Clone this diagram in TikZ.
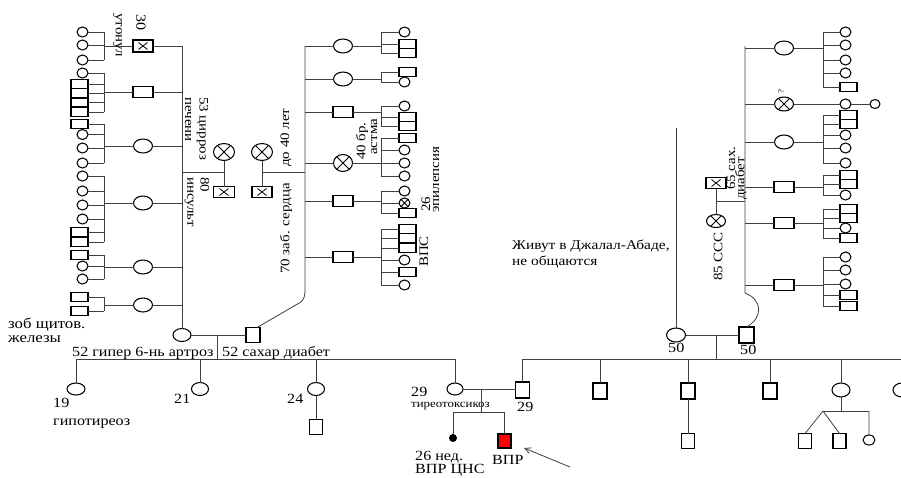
\documentclass[tikz,border=0pt]{standalone}
\usepackage{fontspec}
\setmainfont{Liberation Serif}[FakeStretch=1.15]
\usetikzlibrary{shapes.geometric,arrows.meta}
\tikzset{
 con/.style={draw=black!75, line width=0.8pt},
 ind/.style={draw=black, line width=1.05pt, fill=white, inner sep=0pt, outer sep=0pt},
 fb/.style={ind, ellipse, minimum width=19pt, minimum height=14pt},
 mb/.style={ind, rectangle, minimum width=20pt, minimum height=11pt},
 fk/.style={ind, ellipse, minimum width=11pt, minimum height=10pt},
 mk/.style={ind, rectangle, minimum width=17pt, minimum height=9pt},
 fc/.style={ind, ellipse, minimum width=17pt, minimum height=13pt},
 mc/.style={ind, rectangle, minimum width=14pt, minimum height=15pt},
 xc/.style={path picture={\draw[line width=0.9pt] ([shift={(-10pt,-10pt)}]path picture bounding box.center) -- ([shift={(10pt,10pt)}]path picture bounding box.center) ([shift={(-10pt,10pt)}]path picture bounding box.center) -- ([shift={(10pt,-10pt)}]path picture bounding box.center);}},
 xb/.style={path picture={\draw[line width=0.8pt] ([shift={(-4.5pt,-3.5pt)}]path picture bounding box.center) -- ([shift={(4.5pt,3.5pt)}]path picture bounding box.center) ([shift={(-4.5pt,3.5pt)}]path picture bounding box.center) -- ([shift={(4.5pt,-3.5pt)}]path picture bounding box.center);}},
 lab/.style={inner sep=0pt, font=\fontsize{14}{14.5}\selectfont},
 jlab/.style={inner sep=0pt, font=\fontsize{13.4}{14}\selectfont},
 blab/.style={inner sep=0pt, font=\fontsize{14.6}{15}\selectfont},
 rlab/.style={inner sep=0pt, font=\fontsize{13}{13.5}\selectfont},
 slab/.style={inner sep=0pt, font=\fontsize{11.2}{12}\selectfont},
}
\newcommand{\genL}[3]{\node[#2] (#1) at (143,#3) {}; \draw[con] (182,#3) -- (#1.east); \draw[con] (#1.west) -- (104,#3);}
\newcommand{\kidL}[3]{\node[#2,anchor=east] (#1) at (88,#3) {}; \draw[con] (#1.east) -- (104,#3);}
\newcommand{\genM}[3]{\node[#2] (#1) at (343,#3) {}; \draw[con] (305,#3) -- (#1.west); \draw[con] (#1.east) -- (381,#3);}
\newcommand{\kidM}[3]{\node[#2,anchor=west] (#1) at (399,#3) {}; \draw[con] (381,#3) -- (#1.west);}
\newcommand{\genR}[3]{\node[#2] (#1) at (784,#3) {}; \draw[con] (745,#3) -- (#1.west); \draw[con] (#1.east) -- (823,#3);}
\newcommand{\kidR}[3]{\node[#2,anchor=west] (#1) at (840,#3) {}; \draw[con] (823,#3) -- (#1.west);}
\begin{document}
\begin{tikzpicture}[x=1pt,y=-1pt]
\useasboundingbox[fill=white] (0,0) rectangle (901,477);

% ---------------- mother's side (left) ----------------
\node[fc, minimum width=18pt] (M) at (182,335) {};
\draw[con] (182,46) -- (M.north);
\genL{A1}{mb,xb,minimum height=12pt}{46}
\genL{A2}{mb}{92}
\genL{A3}{fb}{146}
\genL{A4}{fb}{203}
\genL{A5}{fb}{267}
\genL{A6}{fb}{305}
\draw[con] (104,32)--(104,60) (104,73)--(104,112) (104,124)--(104,163)
 (104,176)--(104,242) (104,255)--(104,279) (104,297)--(104,311);
\kidL{a11}{fk}{32} \kidL{a12}{fk}{45} \kidL{a13}{fk}{60}
\kidL{a21}{fk}{73} \kidL{a22}{mk}{84} \kidL{a23}{mk}{93} \kidL{a24}{mk}{102.5} \kidL{a25}{mk}{112}
\kidL{a31}{mk}{124} \kidL{a32}{fk}{134.5} \kidL{a33}{fk}{148} \kidL{a34}{fk}{163}
\kidL{a41}{fk}{176} \kidL{a42}{fk}{191} \kidL{a43}{fk}{205} \kidL{a44}{fk}{219} \kidL{a45}{mk}{232} \kidL{a46}{mk}{242}
\kidL{a51}{mk}{255} \kidL{a52}{fk}{266} \kidL{a53}{fk}{279}
\kidL{a61}{mk}{297} \kidL{a62}{mk}{311}
% grandparents (mother's)
\node[fb,xc,minimum width=21pt,minimum height=17pt] (GM1) at (224,152) {};
\node[mb,xb,minimum width=21pt] (GF1) at (224,192) {};
\draw[con] (GM1.south) -- (GF1.north);
\draw[con] (182,172) -- (224,172);
\node[rlab,rotate=-90,anchor=west] (t30) at (141,14) {\fontsize{14}{15}\selectfont 30};
\node[rlab,rotate=-90,anchor=west] (tut) at (117.5,13) {утонул};
\node[rlab,rotate=-90,anchor=west] (t53) at (202.5,97) {53 цирроз};
\node[rlab,rotate=-90,anchor=west] (tpe) at (188,97) {печени};
\node[rlab,rotate=-90,anchor=west] (t80) at (205,177) {80};
\node[rlab,rotate=-90,anchor=west] (tin) at (189,177) {инсульт};
\node[blab,anchor=base west] (tzob) at (8,328) {зоб щитов.};
\node[blab,anchor=base west] (tzel) at (8,342) {железы};

% ---------------- father's side (middle) ----------------
\node[mc] (F) at (253,335) {};
\draw[con] (305,46) -- (305,290) .. controls (305,296) and (304,299) .. (301,302) -- ([xshift=-3pt]F.north east);
\genM{B1}{fb}{46}
\genM{B2}{fb}{79}
\genM{B3}{mb}{112}
\genM{B4}{fb,xc,minimum height=17pt}{163}
\genM{B5}{mb}{201}
\genM{B6}{mb}{257}
\draw[con] (381,32)--(381,53) (381,72)--(381,82) (381,106)--(381,126)
 (381,138)--(381,176) (381,191)--(381,213) (381,229)--(381,285);
\kidM{b11}{fk}{32} \kidM{b12}{mk}{44} \kidM{b13}{mk}{53}
\kidM{b21}{mk}{72} \kidM{b22}{fk}{82}
\kidM{b31}{fk}{106} \kidM{b32}{mk}{117} \kidM{b33}{mk}{126}
\kidM{b41}{mk}{138} \kidM{b42}{fk}{150} \kidM{b43}{fk}{163} \kidM{b44}{fk}{176}
\kidM{b51}{fk}{191} \kidM{b52}{fk,xc}{203} \kidM{b53}{mk}{213}
\kidM{b61}{mk}{229} \kidM{b62}{mk}{238} \kidM{b63}{mk}{248} \kidM{b64}{fk}{260} \kidM{b65}{mk}{272} \kidM{b66}{fk}{285}
\node[fb,xc,minimum width=21pt,minimum height=17pt] (GM2) at (262,152) {};
\node[mb,xb] (GF2) at (262,192) {};
\draw[con] (GM2.south) -- (GF2.north);
\draw[con] (262,172) -- (305,172);
\node[rlab,rotate=90,anchor=west] (t40l) at (286,167) {до 40 лет};
\node[rlab,rotate=90,anchor=west] (t70) at (286,274) {70 заб. сердца};
\node[rlab,rotate=90,anchor=west] (t40b) at (362,160) {40 бр.};
\node[rlab,rotate=90,anchor=west] (tast) at (374,155) {астма};
\node[rlab,rotate=90,anchor=west] (t26) at (426,212) {26};
\node[rlab,rotate=90,anchor=west] (tepi) at (436,213) {эпилепсия};
\node[rlab,rotate=90,anchor=west] (tvps) at (424,267) {ВПС};

% ---------------- parents and children ----------------
\draw[con] (M.east) -- (F.west);
\draw[con] (217,335) -- (217,359);
\draw[con] (76,359) -- (455,359);
\node[fc,minimum width=18pt,minimum height=12pt] (C1) at (76,389) {};
\node[fc] (C2) at (200,389) {};
\node[fc] (C3) at (316,389) {};
\node[mc,minimum width=13pt] (C3k) at (316,427) {};
\node[fc,minimum width=16pt,minimum height=12pt] (C4) at (455,389) {};
\draw[con] (76,359) -- (C1.north) (200,359) -- (C2.north) (316,359) -- (C3.north) (455,359) -- (C4.north);
\draw[con] (C3.south) -- (C3k.north);
\node[lab,anchor=base west] (t52a) at (72,356) {52 гипер 6-нь артроз};
\node[lab,anchor=base west] (t52b) at (222,356) {52 сахар диабет};
\node[lab,anchor=base west] (t19) at (53,407) {19};
\node[lab,anchor=base west] (thyp) at (53,425) {гипотиреоз};
\node[lab,anchor=base west] (t21) at (174,403) {21};
\node[lab,anchor=base west] (t24) at (287,403) {24};
\node[lab,anchor=base west] (t29a) at (411,396) {29};
\node[slab,anchor=base west] (tthy) at (411,407.5) {тиреотоксикоз};

% husband and children of the couple
\node[mc,minimum height=16pt] (H) at (522.5,390) {};
\node[lab,anchor=base west] (t29b) at (517,411) {29};
\draw[con] (C4.east) -- (C4.east -| H.west);
\draw[con] (481,389) -- (481,412);
\draw[con] (453,412) -- (504.5,412);
\node[circle,fill=black,inner sep=0pt,minimum size=8pt] (D1) at (453,438) {};
\node[ind,rectangle,fill=red,minimum width=13pt,minimum height=14pt] (D2) at (504.5,441) {};
\draw[con] (453,412) -- (D1.north) (504.5,412) -- (D2.north);
\node[lab,anchor=base west] (t26n) at (415,460) {26 нед.};
\node[lab,anchor=base west] (tvc) at (415,473) {ВПР ЦНС};
\node[lab,anchor=base west] (tvpr) at (492,464) {ВПР};
\coordinate (arS) at (570,467);
\coordinate (arE) at (524,448);
\draw[con,-{Straight Barb[length=6pt,width=6pt]}] (arS) -- (arE);

% ---------------- husband's family (right) ----------------
\node[fb] (M2) at (676,335) {};
\node[mc,minimum width=15pt,minimum height=16pt] (F2) at (746.5,335) {};
\node[lab,anchor=base west] (t50a) at (668,352) {50};
\node[lab,anchor=base west] (t50b) at (740,354) {50};
\draw[con] (M2.east) -- (F2.west);
\draw[con] (716,335) -- (716,359);
\draw[con] (676,128) -- (M2.north);
\node[jlab,anchor=base west] (tjiv) at (512,249) {Живут в Джалал-Абаде,};
\node[jlab,anchor=base west] (tneo) at (512,265) {не общаются};
\draw[con] (745,46) -- (745,293) .. controls (763,300) and (763,318) .. (F2.north);
\genR{R1}{fb}{48}
\genR{R2}{fb,xc}{104}
\genR{R3}{fb}{142}
\genR{R4}{mb}{187}
\genR{R5}{mb}{223}
\genR{R6}{mb}{285}
\draw[con] (823,32)--(823,87) (823,115)--(823,163) (823,175)--(823,195)
 (823,209)--(823,238) (823,257)--(823,306);
\kidR{r11}{fk}{32} \kidR{r12}{fk}{45} \kidR{r13}{fk}{60} \kidR{r14}{fk}{73} \kidR{r15}{mk}{87}
\kidR{r2k}{fk}{104}
\node[fk,minimum width=10pt,minimum height=9pt] (r2s) at (875,104) {};
\draw[con] (r2k.east) -- (r2s.west);
\kidR{r31}{mk}{115} \kidR{r32}{mk}{124} \kidR{r33}{fk}{135} \kidR{r34}{fk}{148} \kidR{r35}{fk}{163}
\kidR{r41}{mk}{175} \kidR{r42}{mk}{184} \kidR{r43}{fk}{195}
\kidR{r51}{mk}{209} \kidR{r52}{mk}{218} \kidR{r53}{fk}{228} \kidR{r54}{mk}{238}
\kidR{r61}{fk}{257} \kidR{r62}{fk}{270} \kidR{r63}{fk}{284} \kidR{r64}{mk}{295} \kidR{r65}{mk}{306}
\node[rlab,rotate=90,anchor=west,font=\fontsize{8}{9}\selectfont] (tq) at (781,94) {?};
\node[mb,xb] (GF3) at (716,183) {};
\node[fb,xc,minimum height=13pt] (GM3) at (716,221) {};
\draw[con] (GF3.south) -- (GM3.north);
\draw[con] (716,201) -- (745,201);
\node[rlab,rotate=90,anchor=west] (t65) at (731,190) {65 сах.};
\node[rlab,rotate=90,anchor=west] (tdia) at (741,200) {диабет};
\node[rlab,rotate=90,anchor=west] (t85) at (718,281) {85 ССС};

% bottom generation of the right family
\draw[con] (522.5,359) -- (905,359);
\draw[con] (522.5,359) -- (H.north);
\node[mc,minimum height=16pt] (E2) at (600,391) {};
\node[mc,minimum height=16pt] (E3) at (688,391) {};
\node[mc,minimum width=13pt] (E3k) at (688,441) {};
\node[mc,minimum height=16pt] (E4) at (770,391) {};
\node[fc,minimum width=18pt,minimum height=14pt] (E5) at (841,390) {};
\node[mc,minimum width=13pt] (T1) at (805,441) {};
\node[mc,minimum width=13pt] (T2) at (839.5,441) {};
\node[fk,minimum width=12pt] (T3) at (869,440) {};
\node[fc,minimum width=18pt,minimum height=14pt] (E6) at (902,390) {};
\draw[con] (600,359) -- (E2.north) (688,359) -- (E3.north) (770,359) -- (E4.north)
 (841,359) -- (E5.north) (902,359) -- (E6.north);
\draw[con] (E3.south) -- (E3k.north);
\draw[con] (E5.south) -- (841,411);
\draw[con] (823,411) -- (869,411);
\draw[con] (823,411) -- (T1.north) (823,411) -- (T2.north) (869,411) -- (T3.north);
\end{tikzpicture}
\end{document}
